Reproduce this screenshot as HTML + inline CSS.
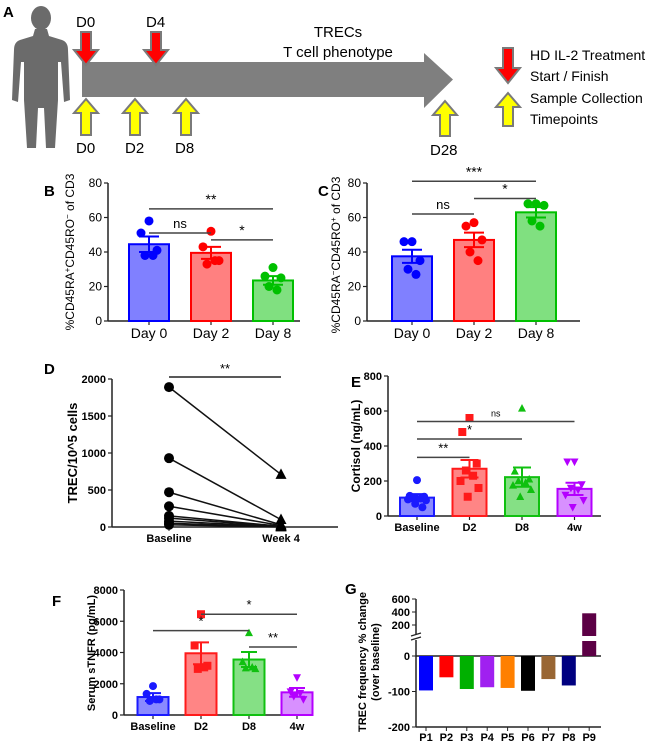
<!DOCTYPE html>
<html><head><meta charset="utf-8"><style>
html,body{margin:0;padding:0;background:#fff;}
svg{display:block;font-family:"Liberation Sans",Arial,sans-serif;}
</style></head><body>
<svg id="fig" width="661" height="743" viewBox="0 0 661 743" xmlns="http://www.w3.org/2000/svg">
<!-- Panel A -->
<g>
<text x="3" y="17" font-size="15" font-weight="bold">A</text>
<g fill="#6b6b6b">
<ellipse cx="41" cy="18" rx="10" ry="12"/>
<path d="M35 29 L47 29 L49 36 L62 40 Q68 42 68 50 L70 100 L64 102 L61 62 L58 62 L58 100 L55 148 L46 148 L44 108 L38 108 L36 148 L27 148 L24 100 L24 62 L21 62 L18 102 L12 100 L14 50 Q14 42 20 40 L33 36 Z"/>
</g>
<path d="M82 62 L424 62 L424 53 L453 79.5 L424 108 L424 97 L82 97 Z" fill="#7f7f7f"/>
<g stroke="#7a7a7a" stroke-width="2">
<path d="M81 32 L91 32 L91 50 L98 50 L86 65 L74 50 L81 50 Z" fill="#ff0000"/>
<path d="M151 32 L161 32 L161 50 L168 50 L156 65 L144 50 L151 50 Z" fill="#ff0000"/>
<path d="M503 48 L513 48 L513 68 L520 68 L508 83 L496 68 L503 68 Z" fill="#ff0000"/>
</g>
<g stroke="#7a7a7a" stroke-width="2" fill="#ffff00">
<path d="M81 135 L91 135 L91 113 L98 113 L86 99 L74 113 L81 113 Z"/>
<path d="M130 135 L140 135 L140 113 L147 113 L135 99 L123 113 L130 113 Z"/>
<path d="M181 135 L191 135 L191 113 L198 113 L186 99 L174 113 L181 113 Z"/>
<path d="M440 136 L450 136 L450 115 L457 115 L445 101 L433 115 L440 115 Z"/>
<path d="M503 126 L513 126 L513 107 L520 107 L508 93 L496 107 L503 107 Z"/>
</g>
<g font-size="15" fill="#000">
<text x="76" y="27">D0</text>
<text x="146" y="27">D4</text>
<text x="76" y="153">D0</text>
<text x="125" y="153">D2</text>
<text x="175" y="153">D8</text>
<text x="430" y="155">D28</text>
<text x="338" y="37" text-anchor="middle">TRECs</text>
<text x="338" y="57" text-anchor="middle">T cell phenotype</text>
<text x="530" y="60" font-size="14">HD IL-2 Treatment</text>
<text x="530" y="81" font-size="14">Start / Finish</text>
<text x="530" y="103" font-size="14">Sample Collection</text>
<text x="530" y="124" font-size="14">Timepoints</text>
</g>
</g>
<text x="44" y="196" font-size="15" font-weight="bold">B</text>
<text x="318" y="196" font-size="15" font-weight="bold">C</text>
<text x="44" y="374" font-size="15" font-weight="bold">D</text>
<text x="351" y="387" font-size="15" font-weight="bold">E</text>
<text x="52" y="606" font-size="15" font-weight="bold">F</text>
<text x="345" y="594" font-size="15" font-weight="bold">G</text>
<text transform="translate(74,252) rotate(-90)" text-anchor="middle" font-size="12">%CD45RA<tspan dy="-4" font-size="8">+</tspan><tspan dy="4">CD45RO</tspan><tspan dy="-4" font-size="8">−</tspan><tspan dy="4"> of CD3</tspan></text>
<text transform="translate(340,255) rotate(-90)" text-anchor="middle" font-size="12">%CD45RA<tspan dy="-4" font-size="8">−</tspan><tspan dy="4">CD45RO</tspan><tspan dy="-4" font-size="8">+</tspan><tspan dy="4"> of CD3</tspan></text>
<text transform="translate(77,453) rotate(-90)" text-anchor="middle" font-size="13" font-weight="bold">TREC/10^5 cells</text>
<text transform="translate(360,446) rotate(-90)" text-anchor="middle" font-size="12" font-weight="bold">Cortisol (ng/mL)</text>
<text transform="translate(95,653) rotate(-90)" text-anchor="middle" font-size="11" font-weight="bold">Serum sTNFR (pg/mL)</text>
<text transform="translate(366,662) rotate(-90)" text-anchor="middle" font-size="11" font-weight="bold">TREC frequency % change</text>
<text transform="translate(379,662) rotate(-90)" text-anchor="middle" font-size="11" font-weight="bold">(over baseline)</text>
</svg>
<script>
// Panel B
const bCats=['Day 0','Day 2','Day 8'];
const bMeans=[44.5,39.5,23.5];
const bErr=[4.5,3.5,2.5];
const bPts=[[58,51,41,38,38],[52,43,35,33,35],[31,26,25,20,18]];
const bTicks=[0,20,40,60,80];
const bBrackets=[[0,1,51,'ns'],[0,2,65,'**'],[1,2,47,'*']];
// Panel C
const cCats=['Day 0','Day 2','Day 8'];
const cMeans=[37.5,47,63];
const cErr=[3.8,4.2,3];
const cPts=[[46,46,35,30,27],[57,55,47,40,35],[68,68,67,58,55]];
const cTicks=[0,20,40,60,80];
const cBrackets=[[0,1,62,'ns'],[0,2,81,'***'],[1,2,71,'*']];
// Panel D
const dCats=['Baseline','Week 4'];
const dBase=[1890,930,470,280,150,120,80,50,30];
const dWeek4=[710,100,30,20,10,5,5,3,0];
const dTicks=[0,500,1000,1500,2000];
// Panel E
const eCats=['Baseline','D2','D8','4w'];
const eMeans=[105,270,222,155];
const eErr=[20,50,55,35];
const ePts=[[205,115,110,105,100,95,90,70,50],[560,480,300,260,230,200,160,110],[615,255,210,200,190,175,150,110],[310,310,180,160,150,120,90,50]];
const eTicks=[0,200,400,600,800];
const eBrackets=[[0,3,540,'ns'],[0,2,440,'*'],[0,1,335,'**']];
// Panel F
const fCats=['Baseline','D2','D8','4w'];
const fMeans=[1150,3950,3550,1450];
const fErr=[250,700,480,280];
const fPts=[[1850,1350,1000,900,1000],[6450,4450,3150,2950,3050],[5250,3400,2950,3000,3050],[2400,1500,1000,1200,1400]];
const fTicks=[0,2000,4000,6000,8000];
const fBrackets=[[1,3,6450,'*'],[0,2,5400,'*'],[2,3,4350,'**']];
// Panel G
const gCats=['P1','P2','P3','P4','P5','P6','P7','P8','P9'];
const gValues=[-97,-60,-93,-88,-90,-98,-65,-83,380];
const gLowTicks=[-200,-100,0];
const gHighTicks=[200,400,600];

const NS='http://www.w3.org/2000/svg';
const svg=document.getElementById('fig');
function mk(tag,attrs,name,parent){
  const el=document.createElementNS(NS,tag);
  for(const k in attrs) el.setAttribute(k,attrs[k]);
  
  
  (parent||svg).appendChild(el);
  return el;
}
function txt(x,y,s,attrs,name){
  const t=mk('text',Object.assign({x:x,y:y},attrs),name);
  t.textContent=s;return t;
}
function marker(type,x,y,r,fill,name){
  if(type==='circle') return mk('circle',{cx:x,cy:y,r:r,fill:fill},name);
  if(type==='square') return mk('rect',{x:x-r,y:y-r,width:2*r,height:2*r,fill:fill},name);
  if(type==='tri') return mk('path',{d:`M${x} ${y-r*1.1} L${x+r} ${y+r*0.8} L${x-r} ${y+r*0.8} Z`,fill:fill},name);
  return mk('path',{d:`M${x} ${y+r*1.1} L${x+r} ${y-r*0.8} L${x-r} ${y-r*0.8} Z`,fill:fill},name);
}
const JIT=[0,-8,8,-4,4,-10,10,-2,6];
function barPanel(p,cats,means,errs,pts,ticks,brackets){
  const y=v=>p.yb-(v-ticks[0])/(ticks[ticks.length-1]-ticks[0])*(p.yb-p.yt);
  const cx=i=>p.x0+p.first+i*p.step;
  mk('line',{x1:p.x0,y1:p.yt,x2:p.x0,y2:p.yb,stroke:'#222','stroke-width':1.5},p.id+'-y-axis');
  mk('line',{x1:p.x0,y1:p.yb,x2:p.x1,y2:p.yb,stroke:'#222','stroke-width':1.5},p.id+'-x-axis');
  ticks.forEach(t=>{
    mk('line',{x1:p.x0-4,y1:y(t),x2:p.x0,y2:y(t),stroke:'#222','stroke-width':1.2},p.id+'-y-tick');
    txt(p.x0-6,y(t)+4,String(t),{'text-anchor':'end','font-size':p.tf,'font-weight':p.bold?'bold':'normal'},p.id+'-y-tick-label');
  });
  cats.forEach((c,i)=>{
    const x=cx(i);
    mk('line',{x1:x,y1:p.yb,x2:x,y2:p.yb+4,stroke:'#222','stroke-width':1.2},p.id+'-x-tick');
    txt(x,p.yb+p.lo,c,{'text-anchor':'middle','font-size':p.cf,'font-weight':p.bold?'bold':'normal'},p.id+'-x-tick-label');
    mk('rect',{x:x-p.bw/2,y:y(means[i]),width:p.bw,height:p.yb-y(means[i]),fill:p.fills[i],stroke:p.cols[i],'stroke-width':2},p.id+'-bar-'+c.toLowerCase().replace(/\s/g,'-'));
    mk('path',{d:`M${x} ${y(means[i]-errs[i])} L${x} ${y(means[i]+errs[i])} M${x-p.cap} ${y(means[i]+errs[i])} L${x+p.cap} ${y(means[i]+errs[i])} M${x-p.cap} ${y(means[i]-errs[i])} L${x+p.cap} ${y(means[i]-errs[i])}`,stroke:p.cols[i],'stroke-width':2,fill:'none'},p.id+'-error-bar');
    pts[i].forEach((v,k)=>{
      marker(p.marks[i],x+JIT[k]*p.jit,y(v),p.mr,p.cols[i],p.id+'-point');
    });
  });
  brackets.forEach(b=>{
    const yy=y(b[2]);
    mk('line',{x1:cx(b[0]),y1:yy,x2:cx(b[1]),y2:yy,stroke:'#444','stroke-width':1.5},p.id+'-significance-line');
    txt((cx(b[0])+cx(b[1]))/2,yy-5,b[3],{'text-anchor':'middle','font-size':b[3]==='ns'?p.nsf:p.sf},p.id+'-significance-label');
  });
}
const BLU='#0000ff',RED='#ff0000',GRN='#00c000',PUR='#b400ff';
barPanel({id:'panel-b',x0:108,x1:300,yt:183,yb:321,first:41,step:62,bw:40,cap:10,tf:12,cf:14,lo:17,mr:4.5,jit:1,sf:14,nsf:13,cols:[BLU,RED,GRN],fills:['#8080ff','#ff8080','#80e080'],marks:['circle','circle','circle']},bCats,bMeans,bErr,bPts,bTicks,bBrackets);
barPanel({id:'panel-c',x0:367,x1:580,yt:183,yb:321,first:45,step:62,bw:40,cap:10,tf:12,cf:14,lo:17,mr:4.5,jit:1,sf:14,nsf:13,cols:[BLU,RED,GRN],fills:['#8080ff','#ff8080','#80e080'],marks:['circle','circle','circle']},cCats,cMeans,cErr,cPts,cTicks,cBrackets);
barPanel({id:'panel-e',x0:388,x1:601,yt:376,yb:516,first:29,step:52.5,bw:34,cap:9,tf:11,cf:11,lo:15,bold:true,mr:4,jit:0.9,sf:13,nsf:9,cols:['#1a1aff','#ff1a1a','#10c010',PUR],fills:['#8a8aff','#ff8585','#85e085','#d890ff'],marks:['circle','square','tri','inv']},eCats,eMeans,eErr,ePts,eTicks,eBrackets);
barPanel({id:'panel-f',x0:124,x1:310,yt:590,yb:715,first:29,step:48,bw:31,cap:8,tf:11,cf:11,lo:15,bold:true,mr:4,jit:0.8,sf:13,nsf:9,cols:['#1a1aff','#ff1a1a','#10c010',PUR],fills:['#8a8aff','#ff8585','#85e085','#d890ff'],marks:['circle','square','tri','inv']},fCats,fMeans,fErr,fPts,fTicks,fBrackets);

// Panel D
(function(){
  const x0=112,x1=338,yt=379,yb=527;
  const y=v=>yb-v/dTicks[dTicks.length-1]*(yb-yt);
  const xs=[169,281];
  mk('line',{x1:x0,y1:yt,x2:x0,y2:yb,stroke:'#222','stroke-width':1.5},'panel-d-y-axis');
  mk('line',{x1:x0,y1:yb,x2:x1,y2:yb,stroke:'#222','stroke-width':1.5},'panel-d-x-axis');
  dTicks.forEach(t=>{
    mk('line',{x1:x0-4,y1:y(t),x2:x0,y2:y(t),stroke:'#222','stroke-width':1.2},'panel-d-y-tick');
    txt(x0-6,y(t)+4,String(t),{'text-anchor':'end','font-size':11,'font-weight':'bold'},'panel-d-y-tick-label');
  });
  dCats.forEach((c,i)=>{
    mk('line',{x1:xs[i],y1:yb,x2:xs[i],y2:yb+4,stroke:'#222'},'panel-d-x-tick');
    txt(xs[i],yb+15,c,{'text-anchor':'middle','font-size':11,'font-weight':'bold'},'panel-d-x-tick-label');
  });
  dBase.forEach((v,k)=>{
    mk('line',{x1:xs[0],y1:y(v),x2:xs[1],y2:y(dWeek4[k]),stroke:'#111','stroke-width':1.5},'panel-d-pair-line');
  });
  dBase.forEach((v,k)=>{
    marker('circle',xs[0],y(v),5,'#000','panel-d-baseline-point');
    marker('tri',xs[1],y(dWeek4[k]),5.5,'#000','panel-d-week4-point');
  });
  mk('line',{x1:xs[0],y1:377,x2:xs[1],y2:377,stroke:'#222','stroke-width':1.5},'panel-d-significance-line');
  txt(225,373,'**',{'text-anchor':'middle','font-size':13},'panel-d-significance-label');
})();

// Panel G
(function(){
  const x0=416,x1=601;
  const yl=v=>656-v*0.355;
  const yu=v=>638-v*0.065;
  const cols=['#0000ff','#ff0000','#00b000','#a020f0','#ff8000','#000000','#996633','#000080','#5c0045'];
  mk('line',{x1:x0,y1:727,x2:x0,y2:640,stroke:'#222','stroke-width':1.5},'panel-g-y-axis-lower');
  mk('line',{x1:x0,y1:634,x2:x0,y2:599,stroke:'#222','stroke-width':1.5},'panel-g-y-axis-upper');
  mk('path',{d:'M411 636 L421 633 M411 640 L421 637',stroke:'#222','stroke-width':1.2},'panel-g-axis-break');
  mk('line',{x1:x0,y1:yl(0),x2:x1,y2:yl(0),stroke:'#222','stroke-width':1.5},'panel-g-zero-line');
  gLowTicks.forEach(t=>{
    mk('line',{x1:x0-4,y1:yl(t),x2:x0,y2:yl(t),stroke:'#222'},'panel-g-y-tick');
    txt(x0-6,yl(t)+4,String(t),{'text-anchor':'end','font-size':11,'font-weight':'bold'},'panel-g-y-tick-label');
  });
  gHighTicks.forEach(t=>{
    mk('line',{x1:x0-4,y1:yu(t),x2:x0,y2:yu(t),stroke:'#222'},'panel-g-y-tick');
    txt(x0-6,yu(t)+4,String(t),{'text-anchor':'end','font-size':11,'font-weight':'bold'},'panel-g-y-tick-label');
  });
  gCats.forEach((c,i)=>{
    const x=426+i*20.4, v=gValues[i];
    if(v<0){
      mk('rect',{x:x-7,y:yl(0),width:14,height:yl(v)-yl(0),fill:cols[i]},'panel-g-bar-'+c.toLowerCase());
    } else {
      mk('rect',{x:x-7,y:641,width:14,height:yl(0)-641,fill:cols[i]},'panel-g-bar-'+c.toLowerCase()+'-lower');
      mk('rect',{x:x-7,y:yu(v),width:14,height:636-yu(v),fill:cols[i]},'panel-g-bar-'+c.toLowerCase()+'-upper');
    }
    mk('line',{x1:x,y1:727,x2:x,y2:731,stroke:'#222'},'panel-g-x-tick');
    txt(x,741,c,{'text-anchor':'middle','font-size':11,'font-weight':'bold'},'panel-g-x-tick-label');
  });
  mk('line',{x1:x0,y1:727,x2:x1,y2:727,stroke:'#222','stroke-width':1.5},'panel-g-x-axis');
})();
</script>
</body></html>
